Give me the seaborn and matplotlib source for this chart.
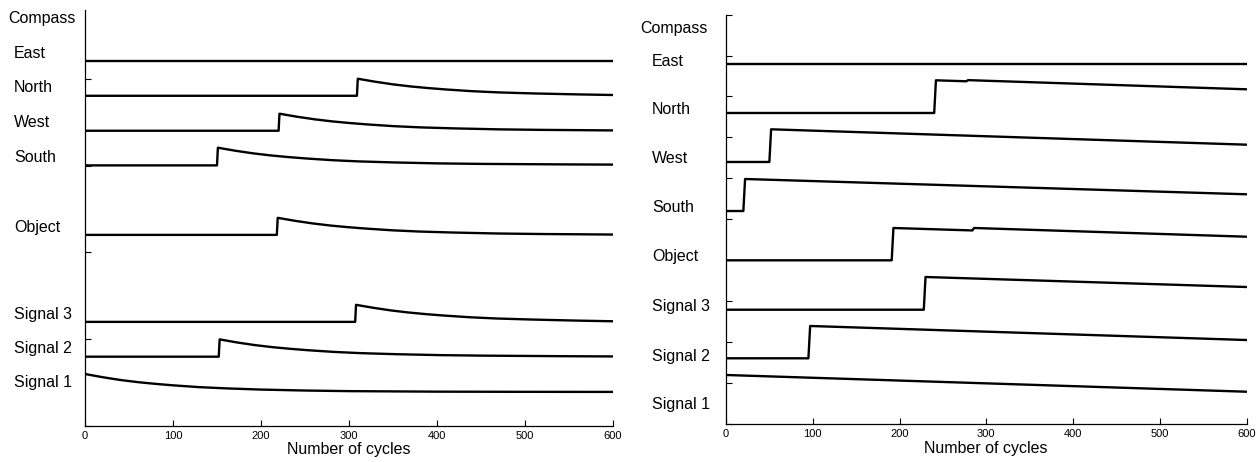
import numpy as np
import pandas as pd
import matplotlib
matplotlib.use("Agg")
import matplotlib.pyplot as plt
import seaborn as sns

# ---------------- data ----------------
trace_names = ["Compass", "East", "North", "West", "South", "Object",
               "Signal 3", "Signal 2", "Signal 1"]
xticks = [0, 100, 200, 300, 400, 500, 600]
x_label = "Number of cycles"

# Left panel (exponential-like decay after a jump)
left_east_x = [0, 600]
left_east_y = [4.214, 4.214]
left_north_x = [0, 309, 310, 330, 350, 370, 390, 410, 440, 470, 510, 560, 600]
left_north_y = [3.809, 3.809, 4.006, 3.971, 3.941, 3.917, 3.898, 3.882, 3.862, 3.848, 3.836, 3.825, 3.818]
left_west_x = [0, 220, 221, 241, 261, 281, 301, 321, 351, 381, 421, 471, 521, 600]
left_west_y = [3.405, 3.405, 3.602, 3.567, 3.537, 3.513, 3.494, 3.478, 3.458, 3.444, 3.432, 3.421, 3.415, 3.409]
left_south_x = [0, 150, 151, 171, 191, 211, 231, 251, 281, 311, 351, 401, 451, 551, 600]
left_south_y = [3.005, 3.005, 3.209, 3.174, 3.144, 3.120, 3.101, 3.085, 3.065, 3.051, 3.039, 3.028, 3.022, 3.016, 3.014]
left_object_x = [0, 218, 219, 239, 259, 279, 299, 319, 349, 379, 419, 469, 519, 600]
left_object_y = [2.202, 2.202, 2.399, 2.364, 2.334, 2.310, 2.291, 2.275, 2.255, 2.241, 2.229, 2.218, 2.212, 2.206]
left_sig3_x = [0, 307, 308, 328, 348, 368, 388, 408, 438, 468, 508, 558, 600]
left_sig3_y = [1.197, 1.197, 1.394, 1.359, 1.329, 1.305, 1.286, 1.270, 1.250, 1.236, 1.224, 1.212, 1.204]
left_sig2_x = [0, 152, 153, 173, 193, 213, 233, 253, 283, 313, 353, 403, 453, 553, 600]
left_sig2_y = [0.795, 0.795, 0.995, 0.959, 0.929, 0.905, 0.886, 0.870, 0.850, 0.836, 0.824, 0.813, 0.807, 0.800, 0.798]
left_sig1_x = [0, 20, 40, 60, 80, 100, 130, 160, 200, 250, 300, 400, 500, 600]
left_sig1_y = [0.595, 0.558, 0.526, 0.501, 0.481, 0.464, 0.443, 0.429, 0.415, 0.404, 0.397, 0.391, 0.389, 0.388]

# Right panel (slow linear decay after a jump)
right_east_x = [0, 600]
right_east_y = [8.795, 8.795]
right_north_x = [0, 240, 242, 277, 279, 600]
right_north_y = [7.597, 7.597, 8.396, 8.372, 8.400, 8.176]
right_west_x = [0, 50, 52, 600]
right_west_y = [6.399, 6.399, 7.198, 6.822]
right_south_x = [0, 20, 22, 600]
right_south_y = [5.200, 5.200, 5.983, 5.609]
right_object_x = [0, 191, 193, 284, 286, 600]
right_object_y = [3.995, 3.995, 4.785, 4.725, 4.785, 4.572]
right_sig3_x = [0, 228, 230, 600]
right_sig3_y = [2.787, 2.787, 3.587, 3.342]
right_sig2_x = [0, 95, 97, 600]
right_sig2_y = [1.599, 1.599, 2.389, 2.046]
right_sig1_x = [0, 600]
right_sig1_y = [1.191, 0.782]

left_traces = [(left_east_x, left_east_y), (left_north_x, left_north_y),
               (left_west_x, left_west_y), (left_south_x, left_south_y),
               (left_object_x, left_object_y), (left_sig3_x, left_sig3_y),
               (left_sig2_x, left_sig2_y), (left_sig1_x, left_sig1_y)]
right_traces = [(right_east_x, right_east_y), (right_north_x, right_north_y),
                (right_west_x, right_west_y), (right_south_x, right_south_y),
                (right_object_x, right_object_y), (right_sig3_x, right_sig3_y),
                (right_sig2_x, right_sig2_y), (right_sig1_x, right_sig1_y)]

# ---------------- style ----------------
sns.set_theme(style="white")
plt.rcParams["font.family"] = ["Liberation Sans", "DejaVu Sans"]
plt.rcParams["text.color"] = "black"
plt.rcParams["axes.labelcolor"] = "black"
plt.rcParams["xtick.color"] = "black"
plt.rcParams["ytick.color"] = "black"

W, H = 1256, 462
fig = plt.figure(figsize=(W / 100, H / 100), dpi=100)

def px_axes(x0, y_top, x1, y_bot):
    return fig.add_axes([x0 / W, 1 - y_bot / H, (x1 - x0) / W, (y_bot - y_top) / H])

axL = px_axes(85, 10, 613, 425.5)
axR = px_axes(726, 14.7, 1246.5, 423.7)

def draw(ax, traces):
    for xs, ys in traces:
        df = pd.DataFrame({"x": xs, "y": ys})
        sns.lineplot(data=df, x="x", y="y", ax=ax, color="black",
                     linewidth=1.7, sort=False, estimator=None)
    ax.set_xlim(0, 600)
    ax.set_xticks(xticks)
    ax.set_xticklabels([str(t) for t in xticks], fontsize=8, color="black")
    ax.set_xlabel(x_label, fontsize=11.5, labelpad=1, color="black")
    ax.set_ylabel("")
    for s in ["top", "right"]:
        ax.spines[s].set_visible(False)
    for s in ["left", "bottom"]:
        ax.spines[s].set_color("black")
        ax.spines[s].set_linewidth(0.9)
    ax.tick_params(axis="both", direction="in", length=4, width=0.8,
                   color="black", labelcolor="black", left=True, bottom=True, pad=4)

draw(axL, left_traces)
axL.set_ylim(0, 4.8)
axL.set_yticks([0, 1, 2, 3, 4])
axL.set_yticklabels([])

draw(axR, right_traces)
axR.set_ylim(0, 10)
axR.set_yticks(range(0, 11))
axR.set_yticklabels([])

# row labels (pixel positions)
left_label_pos = [(8, 19), (14, 53), (14, 88), (14, 123), (14, 157),
                  (14, 228), (14, 315), (14, 348), (14, 383)]
right_label_pos = [(640, 28), (652, 61), (652, 110), (652, 158), (652, 207),
                   (652, 256), (652, 307), (652, 356), (652, 404)]
for name, (x, y) in zip(trace_names, left_label_pos):
    fig.text(x / W, 1 - y / H, name, ha="left", va="center", fontsize=11.5, color="black")
for name, (x, y) in zip(trace_names, right_label_pos):
    fig.text(x / W, 1 - y / H, name, ha="left", va="center", fontsize=11.5, color="black")

fig.savefig("out.png", dpi=100)
